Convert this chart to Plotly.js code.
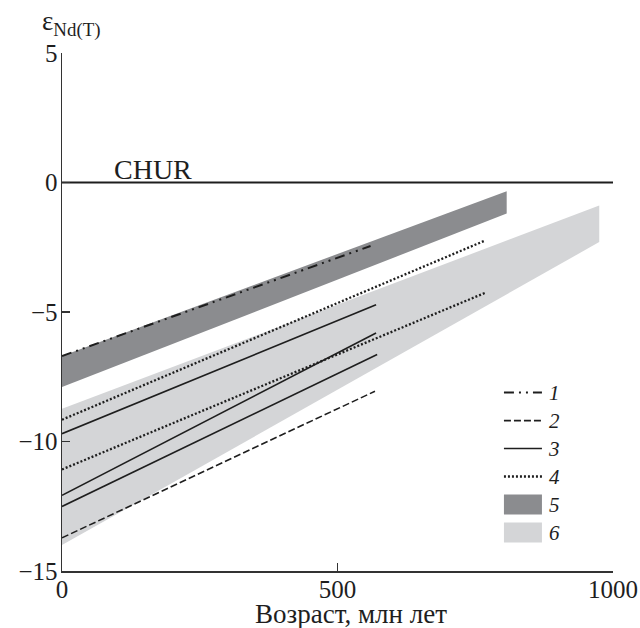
<!DOCTYPE html>
<html>
<head>
<meta charset="utf-8">
<script src="https://cdn.plot.ly/plotly-3.0.1.min.js"></script>
<style>html,body{margin:0;padding:0;background:#fff}#chart{width:640px;height:628px}</style>
</head>
<body>
<div id="chart"></div>
<script>
// Data
const band5X = [0, 807];
const band5Top = [-6.7, -0.34];
const band5Bottom = [-7.9, -1.2];

const band6X = [0, 975];
const band6Top = [-8.74, -0.89];
const band6Bottom = [-14.0, -2.3];

const line1X = [0, 560];
const line1Y = [-6.7, -2.45];

const line2X = [0, 568];
const line2Y = [-13.72, -8.06];

const line3aX = [0, 570];
const line3aY = [-9.70, -4.72];
const line3bX = [0, 570];
const line3bY = [-12.08, -5.81];
const line3cX = [0, 572];
const line3cY = [-12.51, -6.64];

const line4aX = [0, 768];
const line4aY = [-9.16, -2.24];
const line4bX = [0, 768];
const line4bY = [-11.08, -4.26];

const churX = [0, 1000];
const churY = [0, 0];

const legendLabels = ['1', '2', '3', '4', '5', '6'];
const xTickVals = [0, 500, 1000];
const yTickVals = [-15, -10, -5, 0, 5];

function poly(x, top, bottom) {
  return {
    x: [x[0], x[1], x[1], x[0]],
    y: [top[0], top[1], bottom[1], bottom[0]]
  };
}

const serif = 'Liberation Serif, Times New Roman, serif';
const ink = '#1e1e1e';
const p5 = poly(band5X, band5Top, band5Bottom);
const p6 = poly(band6X, band6Top, band6Bottom);

const traces = [
  {x: p6.x, y: p6.y, fill: 'toself', mode: 'none', fillcolor: '#d4d5d7',
   name: legendLabels[5], legendrank: 6, hoverinfo: 'skip'},
  {x: p5.x, y: p5.y, fill: 'toself', mode: 'none', fillcolor: '#8b8c8f',
   name: legendLabels[4], legendrank: 5, hoverinfo: 'skip'},
  {x: churX, y: churY, mode: 'lines', line: {color: ink, width: 2.2}, showlegend: false},
  {x: line2X, y: line2Y, mode: 'lines', line: {color: ink, width: 1.6, dash: '7px,3px'},
   name: legendLabels[1], legendrank: 2},
  {x: line3aX, y: line3aY, mode: 'lines', line: {color: ink, width: 1.6},
   name: legendLabels[2], legendrank: 3},
  {x: line3bX, y: line3bY, mode: 'lines', line: {color: ink, width: 1.6}, showlegend: false},
  {x: line3cX, y: line3cY, mode: 'lines', line: {color: ink, width: 1.6}, showlegend: false},
  {x: line4aX, y: line4aY, mode: 'lines', line: {color: ink, width: 2.3, dash: '2px,2px'},
   name: legendLabels[3], legendrank: 4},
  {x: line4bX, y: line4bY, mode: 'lines', line: {color: ink, width: 2.3, dash: '2px,2px'},
   showlegend: false},
  {x: line1X, y: line1Y, mode: 'lines', line: {color: ink, width: 2, dash: '10px,5px,2px,5px,2px,5px'},
   name: legendLabels[0], legendrank: 1}
];

const layout = {
  width: 640, height: 628,
  margin: {l: 62, r: 27, t: 53, b: 57},
  paper_bgcolor: '#fff', plot_bgcolor: '#fff',
  font: {family: serif, color: ink, size: 25},
  showlegend: true,
  legend: {
    x: 0.793, y: 0.381, xanchor: 'left', yanchor: 'top',
    font: {family: serif, size: 19.2, color: ink, style: 'italic'},
    bgcolor: 'rgba(0,0,0,0)', itemwidth: 40, itemclick: false
  },
  xaxis: {
    range: [0, 1000], tickvals: xTickVals,
    showline: true, linecolor: '#333', linewidth: 1.5,
    ticks: 'inside', ticklen: 8, tickwidth: 1.5, tickcolor: '#333',
    showgrid: false, zeroline: false, ticklabelstandoff: -5,
    tickfont: {family: serif, size: 25, color: ink}
  },
  yaxis: {
    range: [-15, 5], tickvals: yTickVals,
    showline: true, linecolor: '#333', linewidth: 1.5,
    ticks: 'inside', ticklen: 8, tickwidth: 1.5, tickcolor: '#333',
    showgrid: false, zeroline: false, ticklabelstandoff: -2,
    tickfont: {family: serif, size: 25, color: ink}
  },
  annotations: [
    {text: 'ε<sub>Nd(T)</sub>', xref: 'paper', yref: 'paper', x: -0.04, y: 1.056,
     xanchor: 'left', yanchor: 'middle', showarrow: false,
     font: {family: serif, size: 27, color: ink}},
    {text: 'CHUR', xref: 'x', yref: 'y', x: 164.5, y: 0, xanchor: 'center', yanchor: 'bottom',
     showarrow: false, yshift: -4, font: {family: serif, size: 28, color: ink}},
    {text: 'Возраст, млн лет', xref: 'paper', yref: 'paper', x: 0.524, y: -0.0836,
     xanchor: 'center', yanchor: 'middle', showarrow: false, borderpad: 0,
     font: {family: serif, size: 27, color: ink}}
  ]
};

Plotly.newPlot('chart', traces, layout, {staticPlot: true, displayModeBar: false}).then(function (gd) {
  gd.querySelectorAll('.legend .legendfill path').forEach(function (p) {
    p.setAttribute('d', 'M5,-10h38v20h-38z');
  });
  gd.querySelectorAll('.legend .legendlines path').forEach(function (p) {
    p.setAttribute('d', 'M5,0h38');
  });
  gd.querySelectorAll('.legend .legendtext').forEach(function (t) {
    t.style.fontSize = '21px';
  });
});
</script>
</body>
</html>
